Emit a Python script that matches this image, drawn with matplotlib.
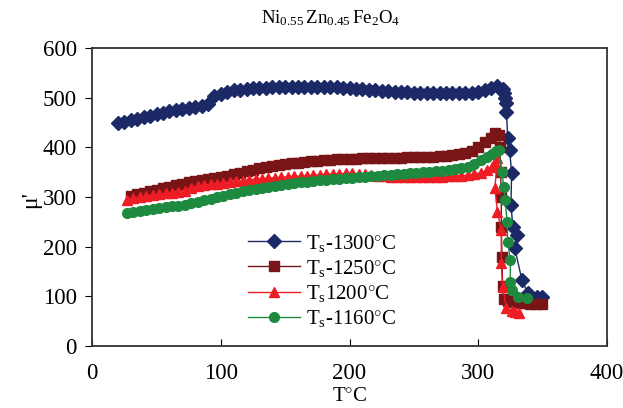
import numpy as np
from matplotlib import pyplot as plt

plt.rcParams['font.family'] = ['Liberation Serif', 'DejaVu Serif']
plt.rcParams['mathtext.fontset'] = 'custom'
plt.rcParams['mathtext.rm'] = 'Liberation Serif'
plt.rcParams['mathtext.it'] = 'Liberation Serif:italic'

# Ts-1300 C
t_1300 = [20, 25, 30, 35, 40, 45, 50, 55, 60, 65,
          70, 75, 80, 85, 90, 95, 100, 105, 110, 115,
          120, 125, 130, 135, 140, 145, 150, 155, 160, 165,
          170, 175, 180, 185, 190, 195, 200, 205, 210, 215,
          220, 225, 230, 235, 240, 245, 250, 255, 260, 265,
          270, 275, 280, 285, 290, 295, 300, 305, 310,
          315, 319, 320, 321, 321.5, 322, 323, 324.5, 326, 325.5,
          327, 330, 328.5, 334, 338.5, 345.5, 349.5]
mu_1300 = [449, 452, 455, 458, 461, 464, 467, 470, 473, 475,
           478, 480, 482, 484, 487, 503, 508, 512, 515, 516,
           518, 519, 520, 520, 521, 521, 521, 521, 521, 521,
           521, 521, 521, 521, 521, 520, 519, 518, 517, 516,
           515, 514, 513, 512, 511, 511, 510, 510, 510, 509,
           509, 509, 509, 509, 509, 510, 512, 515, 519,
           523, 517, 510, 499, 489, 471, 418, 394, 348, 284,
           240, 223, 197, 133, 107, 99, 98]

# Ts-1250 C
t_1250 = [30, 35, 40, 45, 50, 55, 60, 65, 70, 75,
          80, 85, 90, 95, 100, 105, 110, 115, 120, 125,
          130, 135, 140, 145, 150, 155, 160, 165, 170, 175,
          180, 185, 190, 195, 200, 205, 210, 215, 220, 225,
          230, 235, 240, 245, 250, 255, 260, 265, 270, 275,
          280, 285, 290, 295, 300, 305, 310,
          313, 316, 317, 317.5, 318, 318, 318.5, 319, 320, 323,
          327, 331, 335, 340, 345, 350]
mu_1250 = [303, 306, 309, 312, 315, 318, 321, 324, 327, 330,
           333, 335, 337, 339, 341, 343, 346, 349, 352, 355,
           358, 360, 362, 364, 366, 368, 369, 371, 372, 373,
           374, 375, 376, 376, 377, 377, 378, 378, 378, 379,
           379, 379, 379, 380, 380, 380, 381, 381, 382, 383,
           384, 386, 388, 392, 400, 410, 418,
           430, 425, 400, 350, 300, 240, 180, 120, 95, 90,
           88, 87, 86, 85, 85, 85]

# Ts 1200 C
t_1200 = [27, 32, 37, 42, 47, 52, 57, 62, 67, 72,
          77, 82, 87, 92, 97, 102, 107, 112, 117, 122,
          127, 132, 137, 142, 147, 152, 157, 162, 167, 172,
          177, 182, 187, 192, 197, 202, 207, 212, 217, 222,
          227, 232, 237, 242, 247, 252, 257, 262, 267, 272,
          277, 282, 287, 292, 297, 302, 307, 311, 313, 315,
          313, 315, 318, 318, 319, 322, 326, 329, 332]
mu_1200 = [295, 298, 300, 302, 304, 306, 308, 309, 311, 313,
           319, 322, 324, 326, 327, 329, 330, 332, 333, 335,
           336, 337, 338, 339, 340, 341, 342, 342, 343, 344,
           345, 346, 347, 347, 348, 348, 347, 346, 344, 343,
           342, 341, 340, 340, 340, 340, 340, 340, 341, 341,
           342, 342, 343, 344, 346, 349, 354, 360, 368, 378,
           318, 270, 233, 167, 119, 76, 70, 68, 66]

# Ts-1160 C
t_1160 = [27, 32, 37, 42, 47, 52, 57, 62, 67, 72,
          77, 82, 87, 92, 97, 102, 107, 112, 117, 122,
          127, 132, 137, 142, 147, 152, 157, 162, 167, 172,
          177, 182, 187, 192, 197, 202, 207, 212, 217, 222,
          227, 232, 237, 242, 247, 252, 257, 262, 267, 272,
          277, 282, 287, 292, 297, 302, 307, 311, 314, 316,
          318.5, 320, 321, 322.5, 323, 325, 325, 326, 331, 338]
mu_1160 = [267, 269, 271, 273, 275, 277, 279, 281, 283, 285,
           288, 291, 294, 297, 300, 303, 306, 309, 312, 315,
           317, 319, 321, 323, 325, 327, 329, 330, 331, 332,
           334, 335, 336, 337, 338, 339, 340, 341, 342, 343,
           344, 345, 346, 347, 348, 349, 350, 351, 352, 353,
           354, 356, 358, 360, 366, 374, 380, 386, 392, 394,
           350, 320, 294, 250, 209, 173, 129, 113, 99, 97]

fig = plt.figure(figsize=(6.23, 4.08), dpi=100)
ax = fig.add_axes([0.148, 0.152, 0.826, 0.730])

ax.plot(t_1300, mu_1300, color='#1b2966', marker='D', ms=7, lw=1,
        label=r'T$_\mathrm{s}$-1300$^{\circ}$C')
ax.plot(t_1250, mu_1250, color='#7a1517', marker='s', ms=6.5, lw=1,
        label=r'T$_\mathrm{s}$-1250$^{\circ}$C')
ax.plot(t_1200, mu_1200, color='#ee1c24', marker='^', ms=7.5, lw=1,
        label=r'T$_\mathrm{s}$1200$^{\circ}$C')
ax.plot(t_1160, mu_1160, color='#1e8a3f', marker='o', ms=7, lw=1,
        label=r'T$_\mathrm{s}$-1160$^{\circ}$C')

ax.set_xlim(0, 400)
ax.set_ylim(0, 600)
ax.set_xticks([0, 100, 200, 300, 400])
ax.set_yticks([0, 100, 200, 300, 400, 500, 600])
ax.tick_params(axis='x', direction='in', length=5, labelsize=16.5, pad=12)
ax.tick_params(axis='y', direction='out', length=5, labelsize=16.5, pad=6)
for s in ax.spines.values():
    s.set_linewidth(1.3)
    s.set_color('#333333')

ax.set_xlabel(r'T$^{\circ}$C', fontsize=15, va='center')
ax.xaxis.set_label_coords(0.5, -0.168)
ax.set_ylabel("μ'", fontsize=17)
ax.yaxis.set_label_coords(-0.1, 0.49)
fig.text(0.53, 0.955, r'$\mathrm{Ni_{0.55}\,Zn_{0.45}\,Fe_{2}O_{4}}$', fontsize=13.5,
         ha='center', va='center')

ax.legend(loc='upper left', bbox_to_anchor=(0.398, 0.43), bbox_transform=fig.transFigure,
          frameon=False, fontsize=15, handlelength=2.5, handletextpad=0.3,
          labelspacing=0.2, borderpad=0, borderaxespad=0)

plt.savefig('out.png', dpi=100)
